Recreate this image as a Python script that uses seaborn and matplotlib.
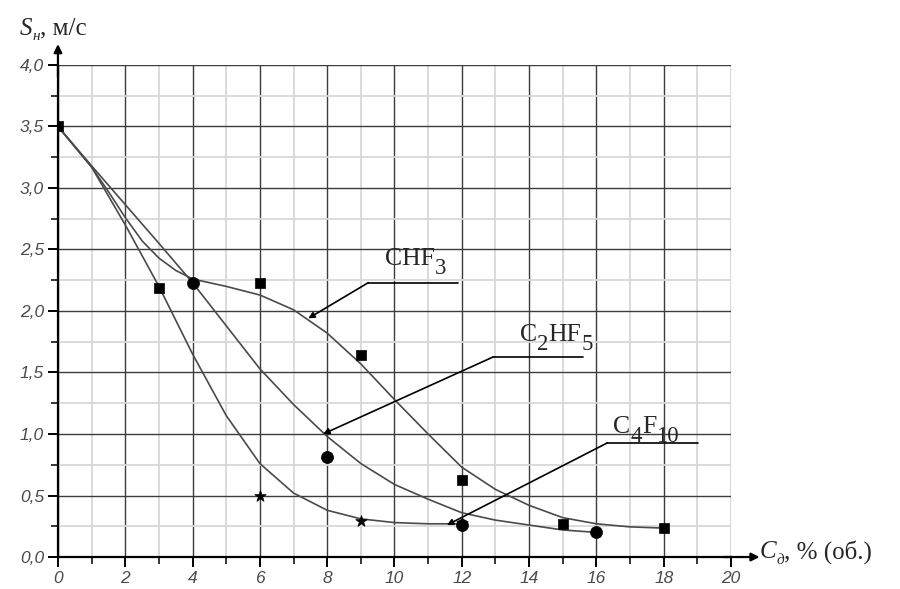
import numpy as np
import pandas as pd
import matplotlib
matplotlib.use("Agg")
import matplotlib.pyplot as plt
from matplotlib.ticker import MultipleLocator, FixedLocator, FixedFormatter
import seaborn as sns

# ---------------- data ----------------
# measured points
sq_x = [0, 3, 6, 9, 12, 15, 18]
sq_y = [3.5, 2.19, 2.23, 1.64, 0.63, 0.27, 0.235]
ci_x = [4, 8, 12, 16]
ci_y = [2.23, 0.815, 0.26, 0.2]
st_x = [6, 9, 12]
st_y = [0.5, 0.295, 0.28]

# fitted curves
chf3_x = [0, 1, 1.5, 2, 2.5, 3, 3.5, 4, 5, 6, 7, 8, 9, 10, 11, 12, 13, 14, 15, 16, 17, 18]
chf3_y = [3.5, 3.17, 2.97, 2.76, 2.57, 2.43, 2.33, 2.26, 2.2, 2.13, 2.01, 1.82, 1.57, 1.28, 1.0, 0.73,
          0.55, 0.42, 0.32, 0.27, 0.245, 0.235]
c2hf5_x = [0, 1, 2, 3, 4, 5, 6, 7, 8, 9, 10, 11, 12, 13, 14, 15, 16]
c2hf5_y = [3.5, 3.18, 2.865, 2.55, 2.23, 1.88, 1.53, 1.24, 0.98, 0.76, 0.59, 0.47, 0.36,
           0.30, 0.26, 0.22, 0.20]
c4f10_x = [0, 1, 2, 3, 4, 5, 6, 7, 8, 9, 10, 11, 12]
c4f10_y = [3.5, 3.17, 2.70, 2.2, 1.65, 1.15, 0.76, 0.52, 0.38, 0.31, 0.28, 0.27, 0.27]

x_ticks = [0, 2, 4, 6, 8, 10, 12, 14, 16, 18, 20]
y_ticks = [0.0, 0.5, 1.0, 1.5, 2.0, 2.5, 3.0, 3.5, 4.0]
y_ticklabels = ["0,0", "0,5", "1,0", "1,5", "2,0", "2,5", "3,0", "3,5", "4,0"]

# annotation anchors: (label text start, elbow, line end, arrow tip)
ann_chf3 = dict(text=(9.72, 2.374), elbow=(9.22, 2.23), end=(11.9, 2.23), tip=(7.44, 1.94))
ann_c2hf5 = dict(text=(13.73, 1.76), elbow=(12.93, 1.626), end=(15.6, 1.626), tip=(7.88, 1.0))
ann_c4f10 = dict(text=(16.5, 1.01), elbow=(16.32, 0.927), end=(19.02, 0.927), tip=(11.56, 0.26))

# ---------------- styling ----------------
sns.set_theme(style="white")
plt.rcParams["font.family"] = ["Liberation Serif", "DejaVu Serif"]

fig = plt.figure(figsize=(9, 5.89), dpi=100)
ax = fig.add_axes([0.0644, 0.0543, 0.7478, 0.8354])

curve_col = "#4a4a4a"
curves = pd.concat([
    pd.DataFrame({"x": chf3_x, "y": chf3_y, "g": "CHF3"}),
    pd.DataFrame({"x": c2hf5_x, "y": c2hf5_y, "g": "C2HF5"}),
    pd.DataFrame({"x": c4f10_x, "y": c4f10_y, "g": "C4F10"}),
])
sns.lineplot(data=curves, x="x", y="y", units="g", estimator=None, sort=False,
             color=curve_col, linewidth=1.2, ax=ax, zorder=4)

sns.scatterplot(x=sq_x, y=sq_y, marker="s", s=52, color="black", edgecolor="black",
                linewidth=0.5, ax=ax, zorder=6)
sns.scatterplot(x=ci_x, y=ci_y, marker="o", s=75, color="black", edgecolor="black",
                linewidth=0.5, ax=ax, zorder=6)
sns.scatterplot(x=st_x, y=st_y, marker="*", s=75, color="black", edgecolor="black",
                linewidth=0.5, ax=ax, zorder=6)

ax.set_xlim(0, 20)
ax.set_ylim(0, 4.0)
ax.set_xlabel("")
ax.set_ylabel("")

# ticks
ax.xaxis.set_major_locator(FixedLocator(x_ticks))
ax.xaxis.set_minor_locator(MultipleLocator(1))
ax.yaxis.set_major_locator(FixedLocator(y_ticks))
ax.yaxis.set_major_formatter(FixedFormatter(y_ticklabels))
ax.yaxis.set_minor_locator(MultipleLocator(0.25))
ax.tick_params(which="major", direction="out", length=7, width=1.4, color="black",
               bottom=True, left=True, labelsize=12.5, labelcolor="#4a4a4a", pad=3)
ax.tick_params(which="minor", direction="out", length=5, width=1.1, color="black",
               bottom=True, left=True)
for lab in ax.get_xticklabels() + ax.get_yticklabels():
    lab.set_family(["Liberation Sans", "DejaVu Sans"])
    lab.set_style("italic")

# grid
ax.grid(which="major", color="#3c3c3c", linewidth=1.0, zorder=1)
ax.grid(which="minor", color="#d8d8d8", linewidth=1.3, zorder=0)
ax.set_axisbelow(True)

for s in ["top", "right"]:
    ax.spines[s].set_visible(False)
for s in ["left", "bottom"]:
    ax.spines[s].set_color("black")
    ax.spines[s].set_linewidth(1.6)
    ax.spines[s].set_zorder(7)

# axis arrows
arrow_kw = dict(arrowstyle="-|>", color="black", lw=1.6, mutation_scale=12, shrinkA=0, shrinkB=0)
ax.annotate("", xy=(0, 4.17), xytext=(0, 3.9), arrowprops=arrow_kw, annotation_clip=False)
ax.annotate("", xy=(20.85, 0), xytext=(19.8, 0), arrowprops=arrow_kw, annotation_clip=False)


def rich_text(x, y, parts, size, subsize, drop):
    """parts: list of (text, is_sub, italic)"""
    prev = None
    for text, sub, ital in parts:
        fs = subsize if sub else size
        off = -drop if sub else 0
        style = "italic" if ital else "normal"
        if prev is None:
            prev = ax.annotate(text, xy=(x, y), xycoords="data", xytext=(0, off),
                               textcoords="offset points", fontsize=fs, style=style,
                               va="baseline", ha="left", annotation_clip=False, zorder=9)
        else:
            prev = ax.annotate(text, xy=(1, y), xycoords=(prev, "data"), xytext=(0, off),
                               textcoords="offset points", fontsize=fs, style=style,
                               va="baseline", ha="left", annotation_clip=False, zorder=9)


# labels with leader lines
for ann, parts in [
    (ann_chf3, [("CHF", False, False), ("3", True, False)]),
    (ann_c2hf5, [("C", False, False), ("2", True, False), ("HF", False, False), ("5", True, False)]),
    (ann_c4f10, [("C", False, False), ("4", True, False), ("F", False, False), ("10", True, False)]),
]:
    rich_text(ann["text"][0], ann["text"][1], parts, 18.5, 16.5, 6.5)
    ax.plot([ann["elbow"][0], ann["end"][0]], [ann["elbow"][1], ann["end"][1]],
            color="black", lw=1.2, zorder=5)
    ax.annotate("", xy=ann["tip"], xytext=ann["elbow"],
                arrowprops=dict(arrowstyle="-|>", color="black", lw=1.2,
                                mutation_scale=9, shrinkA=0, shrinkB=0), zorder=5)

# axis titles
rich_text(-1.13, 4.245, [("S", False, True), ("н", True, True), (", м/с", False, False)], 18, 11, 4)
rich_text(20.86, -0.01, [("C", False, True), ("д", True, True), (", % (об.)", False, False)], 18, 11, 4)

fig.savefig("out.png", dpi=100)
